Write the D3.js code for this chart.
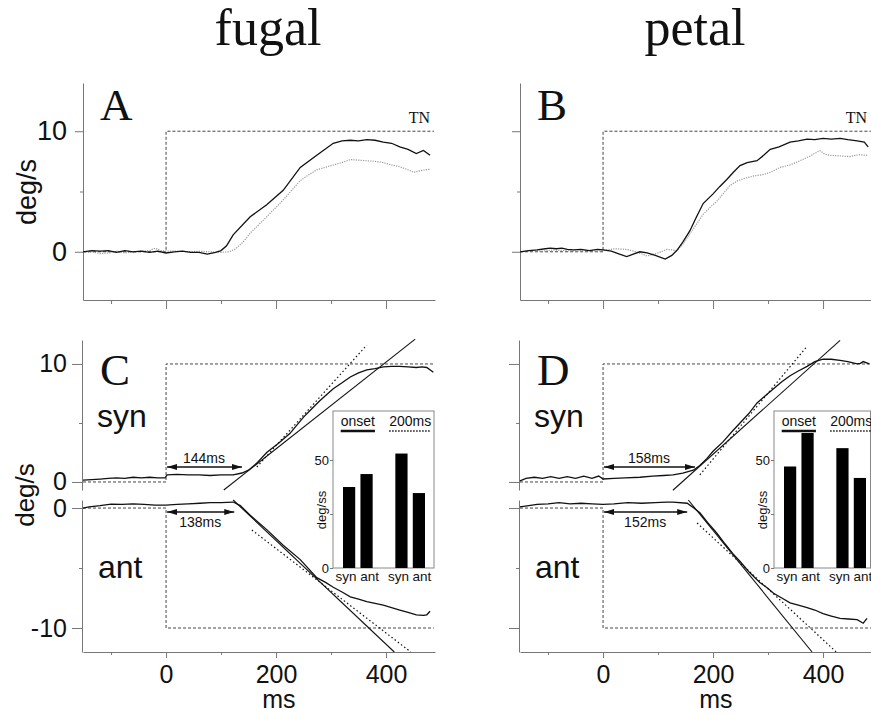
<!DOCTYPE html>
<html>
<head>
<meta charset="utf-8">
<script src="https://cdn.jsdelivr.net/npm/d3@7"></script>
<style>
  body { margin: 0; background: #fff; }
  svg { display: block; }
  .sans { font-family: "Liberation Sans", Arial, Helvetica, sans-serif; fill: #111; }
  .serif { font-family: "Liberation Serif", "Times New Roman", serif; fill: #111; }
</style>
</head>
<body>
<div id="chart"></div>
<script>
// ---- data (time in ms, velocity in deg/s) ----
var columnTitles = ['fugal', 'petal'];
var panelLetters = ['A', 'B', 'C', 'D'];
var xTicksMajor = [0, 200, 400];
var xTicksMinor = [-100, 100, 300];
var stimulus = 10; // target step, deg/s

// A: fugal, black = solid trace, gray = dotted trace
var fugalSolid = [[-151,0],[-135,0.1],[-120,0.05],[-105,0.1],[-90,-0.05],[-75,0.1],[-60,0],[-45,0.05],[-30,-0.05],[-15,0.05],[0,-0.1],[15,0],[30,0.05],[45,-0.05],[60,-0.05],[75,-0.2],[90,-0.05],[100,0.1],[110,0.5],[122,1.4],[153,2.9],[183,3.9],[213,5.1],[244,7.0],[274,8.0],[304,9.0],[320,9.2],[335,9.25],[350,9.2],[365,9.3],[380,9.25],[395,9.1],[410,9.0],[425,8.7],[440,8.5],[455,8.15],[468,8.4],[480,8.0]];
var fugalDotted = [[-151,-0.05],[-135,0],[-120,-0.15],[-105,-0.1],[-90,0.05],[-75,-0.1],[-60,0],[-45,0.05],[-30,0.1],[-20,0.3],[-10,0.1],[0,0.05],[20,0.05],[40,0],[60,0.05],[80,0],[100,-0.05],[115,0],[125,0.2],[140,0.8],[153,1.55],[183,2.9],[213,4.3],[244,5.9],[260,6.4],[274,6.8],[304,7.2],[320,7.4],[335,7.65],[350,7.6],[365,7.55],[380,7.5],[395,7.4],[410,7.2],[425,7.05],[440,6.8],[450,6.6],[465,6.75],[480,6.85]];
// B: petal
var petalSolid = [[-151,0],[-135,0.1],[-120,0.15],[-105,0.25],[-96,0.3],[-85,0.25],[-75,0.3],[-65,0.2],[-54,0.15],[-40,0.2],[-25,0.1],[-10,0.2],[0,0.15],[15,0.05],[30,-0.2],[43,-0.4],[55,-0.2],[67,0],[80,-0.1],[95,-0.3],[113,-0.6],[125,-0.3],[134,0.1],[145,0.8],[158,1.75],[170,2.9],[182,4.0],[200,4.8],[212,5.4],[225,6.0],[237,6.6],[249,7.15],[262,7.4],[280,7.55],[292,8.0],[304,8.5],[320,8.7],[340,9.1],[355,9.2],[371,9.35],[385,9.3],[400,9.4],[415,9.35],[431,9.4],[445,9.3],[462,9.2],[475,9.1],[482,8.7]];
var petalDotted = [[-151,0],[-130,0.1],[-110,0.05],[-90,0.15],[-70,0.1],[-50,0.05],[-30,0.1],[-10,0.05],[0,0.1],[20,0.25],[43,0.2],[60,0],[80,-0.35],[100,-0.1],[116,0.2],[134,0.1],[145,0.6],[158,1.5],[170,2.3],[182,3.1],[195,3.7],[207,4.2],[220,4.9],[231,5.5],[245,5.9],[262,6.15],[275,6.3],[291,6.4],[305,6.6],[322,7.0],[340,7.2],[358,7.55],[375,7.9],[394,8.4],[403,8.1],[413,8.0],[430,7.95],[449,7.9],[465,8.05],[482,8.0]];

// C: fugal, syn / ant
var fugalSyn = [[-151,0.15],[-135,0.2],[-120,0.25],[-105,0.3],[-90,0.35],[-75,0.3],[-60,0.4],[-45,0.35],[-30,0.4],[-15,0.35],[-2,0.35],[2,0.6],[20,0.65],[40,0.6],[60,0.6],[80,0.55],[100,0.6],[122,0.6],[138,0.76],[150,1.0],[165,1.6],[183,2.5],[205,3.3],[225,4.1],[250,5.5],[265,6.2],[280,6.9],[304,7.9],[320,8.4],[335,8.9],[350,9.25],[365,9.5],[380,9.6],[395,9.75],[410,9.8],[425,9.8],[440,9.75],[455,9.7],[465,9.75],[474,9.7],[486,9.3]];
var fugalAnt = [[-151,0],[-140,0.1],[-120,0.2],[-100,0.33],[-80,0.3],[-60,0.35],[-40,0.3],[-20,0.25],[0,0.25],[20,0.3],[40,0.35],[62,0.4],[80,0.45],[100,0.45],[122,0.5],[135,0.2],[153,-0.6],[183,-1.8],[213,-3.1],[244,-4.3],[274,-5.8],[290,-6.2],[304,-6.6],[320,-7.0],[335,-7.4],[350,-7.6],[365,-7.8],[380,-7.95],[395,-8.1],[410,-8.3],[425,-8.5],[440,-8.7],[455,-8.9],[468,-8.95],[474,-8.9],[480,-8.6]];
// D: petal, syn / ant
var petalSyn = [[-151,0.1],[-140,0.3],[-125,0.4],[-110,0.3],[-95,0.45],[-80,0.3],[-65,0.45],[-50,0.3],[-35,0.5],[-20,0.3],[-8,0.5],[0,0.25],[20,0.3],[40,0.35],[67,0.4],[90,0.5],[110,0.55],[127,0.6],[145,0.75],[164,1.0],[176,1.4],[189,2.0],[200,2.6],[218,3.4],[235,4.3],[249,5.0],[265,5.8],[280,6.7],[295,7.3],[310,7.9],[325,8.5],[340,9.0],[355,9.4],[371,9.8],[385,10.2],[400,10.4],[415,10.4],[431,10.3],[445,10.2],[462,10.0],[468,10.05],[473,10.2],[484,10.0]];
var petalAnt = [[-151,0.1],[-135,0.2],[-120,0.3],[-100,0.35],[-80,0.45],[-60,0.35],[-40,0.4],[-20,0.35],[0,0.3],[20,0.35],[45,0.45],[70,0.4],[95,0.45],[115,0.5],[127,0.5],[153,0.4],[165,0],[176,-0.4],[190,-1.2],[207,-2.1],[222,-3.0],[236,-3.8],[250,-4.5],[267,-5.4],[285,-6.2],[300,-6.7],[310,-7.1],[325,-7.5],[340,-7.9],[355,-8.1],[371,-8.3],[385,-8.5],[400,-8.8],[415,-9.0],[431,-9.2],[446,-9.25],[462,-9.3],[473,-9.6],[480,-9.2]];

// fitted accelerations: [start, end] in (ms, deg/s)
var fugalFitOnsetSyn = [[105,-0.68],[453,12.1]];
var fugalFit200Syn = [[165,1.27],[365,11.6]];
var fugalFitOnsetAnt = [[122,0.67],[415,-12]];
var fugalFit200Ant = [[156,-1.83],[445,-12]];
var petalFitOnsetSyn = [[127,-0.7],[431,12]];
var petalFit200Syn = [[176,0.6],[371,11.5]];
var petalFitOnsetAnt = [[155,0.67],[380,-12]];
var petalFit200Ant = [[171,-1.25],[424,-12]];

// latencies
var fugalLatency = ['144ms', '138ms'];
var fugalArrowEnd = [138, 124];
var petalLatency = ['158ms', '152ms'];
var petalArrowEnd = [167, 153];

// inset bars (deg/s/s)
var insetGroups = ['onset', '200ms'];
var insetCats = ['syn', 'ant', 'syn', 'ant'];
var fugalAccel = [37.5, 43.5, 53, 34.7];
var petalAccel = [47, 62.5, 55.5, 41.7];

// ---- drawing ----
var W = 871, H = 715;
var svg = d3.select('#chart').append('svg').attr('width', W).attr('height', H);

svg.append('defs').append('marker')
  .attr('id', 'arrow')
  .attr('viewBox', '0 0 10 6')
  .attr('refX', 10).attr('refY', 3)
  .attr('markerWidth', 10).attr('markerHeight', 6)
  .attr('markerUnits', 'userSpaceOnUse')
  .attr('orient', 'auto-start-reverse')
  .append('path').attr('d', 'M0,0L10,3L0,6Z').attr('fill', '#111');

var line = d3.line();
var plain = function(d) { return String(d); };

function drawTrace(x, y, data, dotted) {
  svg.append('path')
    .attr('d', line(data.map(function(d) { return [x(d[0]), y(d[1])]; })))
    .attr('fill', 'none')
    .attr('stroke', dotted ? '#999' : '#111')
    .attr('stroke-width', dotted ? 1.2 : 1.3)
    .attr('stroke-dasharray', dotted ? '1.2,1.2' : null);
}

function drawStep(x, y, level) {
  var d = x.domain();
  var pts = [[d[0], 0], [0, 0], [0, level], [d[1] - 2, level]];
  svg.append('path')
    .attr('d', line(pts.map(function(p) { return [x(p[0]), y(p[1])]; })))
    .attr('fill', 'none')
    .attr('stroke', '#444')
    .attr('stroke-width', 1)
    .attr('stroke-dasharray', '3,2');
}

function yAxis(x0, y, major, minor, size, pad, fs, labels) {
  var g = svg.append('g').attr('transform', 'translate(' + x0 + ',0)').attr('color', '#777');
  g.call(d3.axisLeft(y).tickValues(major).tickSize(size).tickPadding(pad).tickSizeOuter(0)
    .tickFormat(labels ? plain : ''));
  g.append('g').call(d3.axisLeft(y).tickValues(minor).tickSize(3).tickSizeOuter(0).tickFormat(''))
    .select('.domain').remove();
  g.selectAll('text').attr('class', 'sans').style('font-size', fs + 'px').attr('fill', '#111');
  return g;
}

function xAxis(x, y0, majorSize, minorSize, labels) {
  var g = svg.append('g').attr('transform', 'translate(0,' + y0 + ')').attr('color', '#777');
  g.call(d3.axisBottom(x).tickValues(xTicksMajor).tickSize(majorSize).tickPadding(7).tickSizeOuter(0)
    .tickFormat(labels ? plain : ''));
  g.append('g').call(d3.axisBottom(x).tickValues(xTicksMinor).tickSize(minorSize).tickSizeOuter(0).tickFormat(''))
    .select('.domain').remove();
  g.selectAll('text').attr('class', 'sans').style('font-size', '25px').attr('fill', '#111');
}

function text(cls, x, y, s, size, anchor) {
  return svg.append('text').attr('class', cls).attr('x', x).attr('y', y)
    .attr('text-anchor', anchor || 'middle').style('font-size', size + 'px').text(s);
}

function drawFit(x, y, seg, dotted) {
  svg.append('line')
    .attr('x1', x(seg[0][0])).attr('y1', y(seg[0][1]))
    .attr('x2', x(seg[1][0])).attr('y2', y(seg[1][1]))
    .attr('stroke', '#111')
    .attr('stroke-width', dotted ? 1.2 : 1.1)
    .attr('stroke-dasharray', dotted ? '1.5,2.5' : null);
}

function drawArrow(x, y, v, tEnd, label, above) {
  svg.append('line')
    .attr('x1', x(0) + 1).attr('x2', x(tEnd))
    .attr('y1', y(v)).attr('y2', y(v))
    .attr('stroke', '#111').attr('stroke-width', 1.3)
    .attr('marker-start', 'url(#arrow)').attr('marker-end', 'url(#arrow)');
  text('sans', (x(0) + x(tEnd)) / 2, y(v) + (above ? -4 : 15), label, 14);
}

function drawInset(left, right, values) {
  var top = 411, bottom = 568;
  var yi = d3.scaleLinear().domain([0, 72.7]).range([bottom, top]);
  var xb = d3.scaleBand().domain([0, 1, 2, 3, 4]).range([left + 10, left + 92]).paddingInner(0.3);
  var slots = [0, 1, 3, 4];
  svg.append('rect')
    .attr('x', left).attr('y', top).attr('width', right - left).attr('height', bottom - top)
    .attr('fill', '#fff').attr('stroke', '#888').attr('stroke-width', 1);
  var g = svg.append('g').attr('transform', 'translate(' + left + ',0)').attr('color', '#777');
  g.call(d3.axisLeft(yi).tickValues([0, 25, 50]).tickSize(3).tickPadding(1).tickSizeOuter(0)
    .tickFormat(function(d) { return d === 25 ? '' : d; }));
  g.select('.domain').remove();
  g.selectAll('text').attr('class', 'sans').style('font-size', '13px').attr('fill', '#111');
  svg.selectAll(null).data(values).enter().append('rect')
    .attr('x', function(d, i) { return xb(slots[i]); })
    .attr('y', function(d) { return yi(d); })
    .attr('width', xb.bandwidth())
    .attr('height', function(d) { return bottom - yi(d); })
    .attr('fill', '#000');
  insetCats.forEach(function(c, i) {
    var shift = i % 2 === 0 ? -3 : 3;
    text('sans', xb(slots[i]) + xb.bandwidth() / 2 + shift, 581, c, 13.5);
  });
  insetGroups.forEach(function(s, k) {
    var cx = (xb(slots[2 * k]) + xb(slots[2 * k + 1]) + xb.bandwidth()) / 2;
    var t = text('sans', cx, 426, s, 14);
    var w = t.node().getComputedTextLength();
    svg.append('line')
      .attr('x1', cx - w / 2).attr('x2', cx + w / 2).attr('y1', 431).attr('y2', 431)
      .attr('stroke', '#111')
      .attr('stroke-width', k === 0 ? 2.5 : 1.5)
      .attr('stroke-dasharray', k === 0 ? null : '1.5,1.5');
  });
  svg.append('text').attr('class', 'sans')
    .attr('transform', 'translate(' + (left - 7) + ',510) rotate(-90)')
    .attr('text-anchor', 'middle').style('font-size', '13px').text('deg/ss');
}

// titles
text('serif', 268, 45, columnTitles[0], 52);
text('serif', 695, 45, columnTitles[1], 52);

var cols = [
  { x0: 83, x1: 435, labels: true, solid: fugalSolid, dotted: fugalDotted,
    syn: fugalSyn, ant: fugalAnt,
    fits: [fugalFitOnsetSyn, fugalFit200Syn, fugalFitOnsetAnt, fugalFit200Ant],
    lat: fugalLatency, arrowEnd: fugalArrowEnd, accel: fugalAccel, inset: [333, 434] },
  { x0: 520, x1: 872, labels: false, solid: petalSolid, dotted: petalDotted,
    syn: petalSyn, ant: petalAnt,
    fits: [petalFitOnsetSyn, petalFit200Syn, petalFitOnsetAnt, petalFit200Ant],
    lat: petalLatency, arrowEnd: petalArrowEnd, accel: petalAccel, inset: [774, 870.5] }
];

cols.forEach(function(c, ci) {
  var x = d3.scaleLinear().domain([-151, 489]).range([c.x0, c.x1]);
  var yTop = d3.scaleLinear().domain([-4, 14]).range([300, 83]);
  var ySyn = d3.scaleLinear().domain([-0.68, 12.03]).range([490, 340]);
  var yAnt = d3.scaleLinear().domain([0.67, -12]).range([500, 652]);

  // ---- top panel (A / B) ----
  yAxis(c.x0, yTop, [0, 10], [5], 8, 8, 27, c.labels);
  xAxis(x, 300, 9, 4, false);
  drawStep(x, yTop, stimulus);
  drawTrace(x, yTop, c.dotted, true);
  drawTrace(x, yTop, c.solid, false);
  text('serif', c.x0 + 17, 120, panelLetters[ci], 45, 'start');
  text('serif', c.x1 - 5, 123, 'TN', 16, 'end');

  // ---- bottom panel (C / D) ----
  yAxis(c.x0 - 1, ySyn, [0, 10], [5], 10, 5, 25, c.labels);
  yAxis(c.x0 - 1, yAnt, [0, -10], [-5], 10, 5, 25, c.labels);
  xAxis(x, 652, 6, 3, true);
  drawStep(x, ySyn, stimulus);
  drawStep(x, yAnt, -stimulus);
  drawTrace(x, ySyn, c.syn, false);
  drawTrace(x, yAnt, c.ant, false);
  drawFit(x, ySyn, c.fits[0], false);
  drawFit(x, ySyn, c.fits[1], true);
  drawFit(x, yAnt, c.fits[2], false);
  drawFit(x, yAnt, c.fits[3], true);
  drawArrow(x, ySyn, 1.27, c.arrowEnd[0], c.lat[0], true);
  drawArrow(x, yAnt, -0.33, c.arrowEnd[1], c.lat[1], false);
  drawInset(c.inset[0], c.inset[1], c.accel);
  text('serif', c.x0 + 17, 385, panelLetters[ci + 2], 45, 'start');
  text('sans', c.x0 + 14, 427, 'syn', 32, 'start');
  text('sans', c.x0 + 15, 578, 'ant', 32, 'start');
  text('sans', x(205), 708, 'ms', 25);
});

// y titles
svg.append('text').attr('class', 'sans')
  .attr('transform', 'translate(36,192) rotate(-90)')
  .attr('text-anchor', 'middle').style('font-size', '27px').text('deg/s');
svg.append('text').attr('class', 'sans')
  .attr('transform', 'translate(34,495) rotate(-90)')
  .attr('text-anchor', 'middle').style('font-size', '26px').text('deg/s');
</script>
</body>
</html>
